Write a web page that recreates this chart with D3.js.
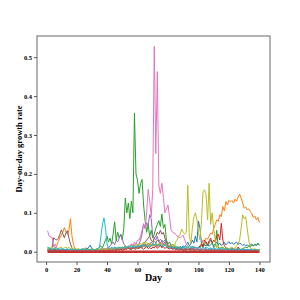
<!DOCTYPE html>
<html><head><meta charset="utf-8">
<script src="https://cdn.jsdelivr.net/npm/d3@7"></script>
<style>
html,body{margin:0;padding:0;background:#fff;}
svg{display:block;}
</style></head>
<body>
<svg id="chart" width="300" height="300"></svg>
<script>
const xTicks = [0,20,40,60,80,100,120,140];
const yTicks = [0.0,0.1,0.2,0.3,0.4,0.5];
const days = d3.range(1,141);

const blue = [
0.010,0.008,0.006,0.005,0.004,0.006,0.005,0.004,0.003,0.004,
0.005,0.004,0.003,0.004,0.003,0.005,0.004,0.003,0.004,0.005,
0.004,0.006,0.005,0.008,0.006,0.010,0.007,0.012,0.017,0.008,
0.006,0.005,0.007,0.006,0.005,0.008,0.006,0.007,0.005,0.006,
0.008,0.006,0.010,0.007,0.012,0.009,0.008,0.011,0.009,0.012,
0.010,0.014,0.011,0.009,0.013,0.010,0.015,0.012,0.010,0.014,
0.012,0.016,0.011,0.014,0.018,0.013,0.015,0.012,0.016,0.020,
0.015,0.018,0.014,0.020,0.016,0.012,0.015,0.018,0.013,0.010,
0.012,0.015,0.010,0.013,0.009,0.012,0.010,0.014,0.011,0.015,
0.012,0.018,0.025,0.015,0.020,0.030,0.022,0.040,0.025,0.079,
0.060,0.020,0.012,0.018,0.015,0.020,0.014,0.018,0.022,0.016,
0.020,0.025,0.018,0.022,0.016,0.020,0.024,0.018,0.022,0.026,
0.020,0.024,0.019,0.022,0.025,0.018,0.022,0.020,0.016,0.019,
0.015,0.018,0.014,0.017,0.020,0.015,0.018,0.016,0.020,0.017];

const orange = [
0.004,0.005,0.006,0.005,0.008,0.010,0.015,0.026,0.035,0.043,
0.050,0.062,0.052,0.045,0.055,0.085,0.040,0.018,0.008,0.006,
0.005,0.004,0.006,0.005,0.004,0.005,0.006,0.004,0.005,0.008,
0.006,0.005,0.004,0.006,0.005,0.004,0.006,0.005,0.007,0.006,
0.005,0.006,0.004,0.005,0.007,0.005,0.006,0.008,0.006,0.005,
0.007,0.006,0.008,0.010,0.007,0.009,0.012,0.008,0.010,0.013,
0.010,0.014,0.012,0.016,0.011,0.018,0.013,0.015,0.020,0.014,
0.018,0.022,0.016,0.020,0.025,0.018,0.022,0.015,0.018,0.012,
0.014,0.010,0.012,0.009,0.011,0.008,0.010,0.007,0.009,0.006,
0.008,0.006,0.007,0.005,0.006,0.008,0.006,0.007,0.008,0.010,
0.010,0.018,0.030,0.028,0.035,0.032,0.040,0.048,0.045,0.060,
0.070,0.082,0.078,0.095,0.090,0.116,0.105,0.129,0.120,0.132,
0.128,0.132,0.125,0.135,0.130,0.140,0.148,0.138,0.125,0.112,
0.115,0.108,0.110,0.104,0.098,0.088,0.092,0.082,0.088,0.075];

const green = [
0.006,0.008,0.005,0.004,0.006,0.005,0.004,0.003,0.004,0.005,
0.004,0.003,0.005,0.004,0.003,0.004,0.003,0.005,0.004,0.003,
0.004,0.003,0.005,0.004,0.006,0.004,0.005,0.003,0.004,0.006,
0.005,0.004,0.006,0.008,0.012,0.015,0.010,0.020,0.030,0.040,
0.025,0.035,0.020,0.045,0.077,0.030,0.050,0.035,0.045,0.030,
0.060,0.138,0.100,0.125,0.085,0.130,0.100,0.356,0.200,0.184,
0.150,0.175,0.186,0.120,0.080,0.050,0.070,0.040,0.055,0.035,
0.045,0.060,0.070,0.080,0.065,0.097,0.060,0.070,0.030,0.020,
0.025,0.015,0.020,0.012,0.015,0.010,0.012,0.008,0.010,0.012,
0.008,0.010,0.012,0.008,0.010,0.015,0.010,0.012,0.008,0.010,
0.012,0.015,0.020,0.018,0.025,0.015,0.022,0.030,0.025,0.010,
0.015,0.055,0.012,0.008,0.010,0.012,0.008,0.010,0.006,0.008,
0.006,0.008,0.005,0.007,0.006,0.008,0.005,0.006,0.008,0.010,
0.012,0.010,0.015,0.012,0.018,0.015,0.020,0.016,0.022,0.018];

const red = [
0.004,0.003,0.005,0.004,0.003,0.004,0.003,0.002,0.003,0.004,
0.003,0.002,0.004,0.003,0.002,0.003,0.004,0.003,0.002,0.003,
0.002,0.003,0.002,0.004,0.003,0.002,0.003,0.002,0.004,0.003,
0.002,0.003,0.004,0.003,0.002,0.003,0.002,0.004,0.003,0.002,
0.003,0.004,0.003,0.005,0.004,0.003,0.005,0.004,0.006,0.004,
0.005,0.008,0.006,0.010,0.007,0.005,0.012,0.008,0.006,0.010,
0.008,0.012,0.009,0.006,0.010,0.014,0.008,0.011,0.007,0.012,
0.010,0.015,0.009,0.012,0.018,0.010,0.014,0.008,0.012,0.009,
0.007,0.010,0.006,0.008,0.005,0.007,0.004,0.006,0.005,0.004,
0.005,0.004,0.006,0.005,0.008,0.010,0.006,0.012,0.008,0.010,
0.015,0.020,0.012,0.030,0.025,0.018,0.028,0.035,0.022,0.030,
0.025,0.040,0.045,0.030,0.073,0.030,0.015,0.010,0.008,0.006,
0.005,0.008,0.006,0.004,0.006,0.012,0.008,0.005,0.004,0.006,
0.004,0.005,0.003,0.006,0.004,0.003,0.005,0.004,0.003,0.004];

const purple = [
0.003,0.004,0.003,0.005,0.004,0.003,0.004,0.005,0.003,0.004,
0.005,0.004,0.003,0.004,0.005,0.003,0.004,0.003,0.005,0.004,
0.003,0.004,0.005,0.003,0.004,0.006,0.004,0.005,0.003,0.004,
0.005,0.004,0.006,0.005,0.004,0.006,0.005,0.008,0.006,0.010,
0.010,0.015,0.020,0.025,0.018,0.030,0.025,0.035,0.045,0.033,
0.020,0.015,0.012,0.010,0.015,0.020,0.015,0.018,0.012,0.015,
0.020,0.030,0.045,0.072,0.060,0.075,0.068,0.095,0.085,0.040,
0.035,0.030,0.040,0.025,0.020,0.030,0.018,0.025,0.015,0.012,
0.010,0.012,0.008,0.010,0.007,0.009,0.006,0.008,0.006,0.007,
0.005,0.007,0.006,0.008,0.005,0.006,0.008,0.005,0.007,0.006,
0.005,0.007,0.006,0.005,0.008,0.006,0.005,0.007,0.006,0.005,
0.004,0.006,0.005,0.004,0.006,0.005,0.004,0.005,0.006,0.004,
0.005,0.004,0.006,0.005,0.004,0.005,0.003,0.004,0.005,0.004,
0.003,0.004,0.005,0.003,0.004,0.003,0.005,0.004,0.003,0.004];

const brown = [
0.003,0.004,0.006,0.012,0.036,0.032,0.030,0.034,0.044,0.056,
0.046,0.036,0.048,0.054,0.035,0.020,0.010,0.005,0.004,0.005,
0.004,0.003,0.005,0.004,0.003,0.004,0.003,0.005,0.004,0.003,
0.004,0.003,0.004,0.005,0.003,0.004,0.005,0.003,0.004,0.005,
0.004,0.006,0.005,0.004,0.006,0.005,0.007,0.005,0.006,0.008,
0.006,0.008,0.007,0.010,0.008,0.006,0.010,0.008,0.012,0.009,
0.010,0.012,0.015,0.020,0.025,0.030,0.035,0.040,0.030,0.025,
0.035,0.040,0.050,0.045,0.055,0.045,0.050,0.035,0.025,0.015,
0.012,0.010,0.008,0.010,0.007,0.006,0.008,0.005,0.006,0.004,
0.005,0.004,0.006,0.005,0.004,0.005,0.003,0.004,0.005,0.004,
0.003,0.004,0.005,0.004,0.003,0.005,0.004,0.003,0.004,0.005,
0.004,0.003,0.005,0.004,0.003,0.004,0.003,0.005,0.004,0.003,
0.004,0.003,0.004,0.005,0.003,0.004,0.003,0.004,0.003,0.004,
0.003,0.004,0.003,0.002,0.003,0.004,0.003,0.002,0.003,0.003];

const pink = [
0.054,0.040,0.038,0.037,0.012,0.020,0.010,0.008,0.006,0.005,
0.004,0.006,0.005,0.004,0.003,0.004,0.003,0.005,0.004,0.003,
0.004,0.003,0.005,0.004,0.003,0.004,0.005,0.003,0.004,0.003,
0.004,0.005,0.003,0.004,0.005,0.004,0.006,0.005,0.004,0.006,
0.005,0.007,0.006,0.008,0.006,0.009,0.007,0.010,0.008,0.009,
0.010,0.012,0.008,0.015,0.010,0.020,0.015,0.025,0.018,0.030,
0.030,0.040,0.055,0.070,0.060,0.100,0.160,0.130,0.090,0.160,
0.528,0.252,0.463,0.171,0.150,0.176,0.140,0.100,0.110,0.120,
0.090,0.056,0.050,0.048,0.045,0.040,0.038,0.036,0.040,0.042,
0.030,0.020,0.015,0.012,0.010,0.012,0.008,0.010,0.007,0.009,
0.006,0.008,0.005,0.007,0.006,0.005,0.007,0.006,0.005,0.004,
0.006,0.005,0.004,0.005,0.006,0.004,0.005,0.003,0.004,0.005,
0.004,0.003,0.005,0.004,0.003,0.004,0.003,0.005,0.004,0.003,
0.004,0.003,0.002,0.003,0.004,0.003,0.002,0.003,0.004,0.003];

const gray = [
0.008,0.006,0.005,0.007,0.006,0.004,0.005,0.006,0.004,0.005,
0.006,0.005,0.004,0.006,0.005,0.007,0.005,0.004,0.006,0.005,
0.004,0.005,0.006,0.004,0.005,0.004,0.006,0.005,0.004,0.005,
0.006,0.004,0.005,0.006,0.004,0.005,0.007,0.005,0.006,0.008,
0.006,0.007,0.009,0.006,0.008,0.010,0.007,0.009,0.011,0.008,
0.010,0.012,0.009,0.011,0.014,0.010,0.012,0.015,0.011,0.013,
0.016,0.012,0.018,0.014,0.020,0.016,0.022,0.018,0.025,0.020,
0.028,0.022,0.030,0.025,0.032,0.028,0.025,0.030,0.022,0.018,
0.015,0.018,0.012,0.014,0.010,0.012,0.009,0.011,0.008,0.010,
0.007,0.009,0.006,0.008,0.007,0.006,0.008,0.005,0.007,0.006,
0.005,0.007,0.006,0.008,0.006,0.005,0.007,0.006,0.005,0.006,
0.004,0.006,0.005,0.007,0.005,0.004,0.006,0.005,0.004,0.005,
0.004,0.005,0.003,0.004,0.005,0.004,0.003,0.005,0.004,0.003,
0.004,0.003,0.005,0.004,0.003,0.004,0.003,0.004,0.003,0.004];

const olive = [
0.006,0.008,0.010,0.012,0.008,0.010,0.006,0.008,0.010,0.012,
0.008,0.010,0.012,0.009,0.011,0.008,0.010,0.007,0.009,0.006,
0.008,0.006,0.007,0.005,0.006,0.008,0.005,0.007,0.006,0.005,
0.006,0.005,0.007,0.006,0.005,0.007,0.006,0.008,0.006,0.007,
0.008,0.006,0.009,0.007,0.010,0.008,0.011,0.009,0.012,0.010,
0.012,0.014,0.011,0.015,0.012,0.016,0.013,0.018,0.014,0.020,
0.016,0.022,0.018,0.025,0.020,0.024,0.018,0.022,0.016,0.020,
0.018,0.015,0.020,0.016,0.022,0.018,0.015,0.020,0.016,0.012,
0.010,0.015,0.020,0.012,0.025,0.030,0.040,0.045,0.058,0.050,
0.045,0.050,0.171,0.040,0.022,0.060,0.090,0.100,0.082,0.050,
0.030,0.080,0.154,0.159,0.146,0.082,0.176,0.070,0.100,0.060,
0.030,0.010,0.015,0.008,0.012,0.010,0.008,0.006,0.010,0.008,
0.010,0.012,0.008,0.010,0.015,0.020,0.030,0.060,0.095,0.085,
0.090,0.060,0.030,0.010,0.008,0.006,0.008,0.005,0.006,0.004];

const cyan = [
0.012,0.010,0.008,0.006,0.008,0.010,0.007,0.009,0.006,0.008,
0.007,0.005,0.006,0.008,0.005,0.007,0.006,0.004,0.006,0.005,
0.004,0.006,0.005,0.007,0.005,0.006,0.004,0.005,0.006,0.004,
0.005,0.006,0.004,0.006,0.010,0.040,0.070,0.087,0.060,0.020,
0.010,0.008,0.012,0.009,0.011,0.008,0.010,0.012,0.009,0.011,
0.010,0.013,0.011,0.014,0.012,0.015,0.013,0.011,0.014,0.012,
0.015,0.013,0.018,0.014,0.016,0.012,0.015,0.018,0.014,0.020,
0.016,0.022,0.018,0.015,0.020,0.016,0.013,0.018,0.014,0.012,
0.010,0.013,0.011,0.009,0.012,0.010,0.008,0.011,0.009,0.012,
0.010,0.014,0.011,0.015,0.012,0.010,0.013,0.011,0.009,0.012,
0.010,0.008,0.011,0.009,0.012,0.010,0.008,0.010,0.007,0.009,
0.008,0.006,0.009,0.007,0.010,0.008,0.006,0.008,0.007,0.005,
0.007,0.006,0.008,0.006,0.005,0.007,0.006,0.005,0.007,0.006,
0.005,0.006,0.004,0.006,0.005,0.004,0.006,0.005,0.004,0.005];

const baseline = [
0,0,0,0,0,0,0,0,0,0, 0,0,0,0,0,0,0,0,0,0,
0,0,0,0,0,0,0,0,0,0, 0,0,0,0,0,0,0,0,0,0,
0,0,0,0,0,0,0,0,0,0, 0,0,0,0,0,0,0,0,0,0,
0,0,0,0,0,0,0,0,0,0, 0,0,0,0,0,0,0,0,0,0,
0,0,0,0,0,0,0,0,0,0, 0,0,0,0,0,0,0,0,0,0,
0,0,0,0,0,0,0,0,0,0, 0,0,0,0,0,0,0,0,0,0,
0,0,0,0,0,0,0,0,0,0, 0,0,0,0,0,0,0,0,0,0];

const seriesList = [
  {values: blue,   color: "#1f77b4", w: 1},
  {values: orange, color: "#ff7f0e", w: 1},
  {values: green,  color: "#2ca02c", w: 1},
  {values: red,    color: "#d62728", w: 1},
  {values: purple, color: "#9467bd", w: 1},
  {values: brown,  color: "#8c564b", w: 1},
  {values: pink,   color: "#e377c2", w: 1},
  {values: gray,   color: "#7f7f7f", w: 1},
  {values: olive,  color: "#bcbd22", w: 1},
  {values: cyan,   color: "#17becf", w: 1},
  {values: baseline, color: "#d62728", w: 2.4},
  {values: baseline, color: "#8c564b", w: 1.2, op: 0.6}
];

const M = {left: 37, right: 270, top: 36, bottom: 262};
const svg = d3.select("#chart");

const allVals = seriesList.flatMap(s => s.values);
const yMax = d3.max(allVals), yMin = d3.min(allVals);
const yPad = (yMax - yMin) * 0.05;
const xPad = (d3.max(days) - d3.min(days)) * 0.05;

const x = d3.scaleLinear().domain([d3.min(days) - xPad, d3.max(days) + xPad]).range([M.left, M.right]);
const y = d3.scaleLinear().domain([yMin - yPad, yMax + yPad]).range([M.bottom, M.top]);

const line = d3.line().x((d, i) => x(days[i])).y(d => y(d));

const g = svg.append("g");
seriesList.forEach(s => {
  g.append("path").datum(s.values)
    .attr("d", line)
    .attr("fill", "none")
    .attr("stroke", s.color)
    .attr("stroke-width", s.w)
    .attr("stroke-opacity", s.op || 1)
    .attr("stroke-linejoin", "round");
});

// frame
svg.append("rect")
  .attr("x", M.left).attr("y", M.top)
  .attr("width", M.right - M.left).attr("height", M.bottom - M.top)
  .attr("fill", "none").attr("stroke", "#808080").attr("stroke-width", 1.2);

const fontFam = "'Liberation Serif','Times New Roman',serif";

const xAxis = svg.append("g").attr("transform", `translate(0,${M.bottom})`)
  .call(d3.axisBottom(x).tickValues(xTicks).tickSize(3).tickPadding(2).tickFormat(d3.format("d")));
const yAxis = svg.append("g").attr("transform", `translate(${M.left},0)`)
  .call(d3.axisLeft(y).tickValues(yTicks).tickSize(3).tickPadding(2).tickFormat(d3.format(".1f")));
[xAxis, yAxis].forEach(a => {
  a.select(".domain").remove();
  a.selectAll(".tick line").attr("stroke", "#555");
  a.selectAll(".tick text").attr("fill", "#000")
    .style("font-family", fontFam).style("font-size", "6.5px").style("font-weight", "bold");
});

svg.append("text")
  .attr("x", (M.left + M.right) / 2).attr("y", 281)
  .attr("text-anchor", "middle")
  .style("font-family", fontFam).style("font-size", "10px").style("font-weight", "bold")
  .text("Day");

svg.append("text")
  .attr("transform", `translate(22,${(M.top + M.bottom) / 2}) rotate(-90)`)
  .attr("text-anchor", "middle")
  .style("font-family", fontFam).style("font-size", "8.5px").style("font-weight", "bold")
  .text("Day-on-day growth rate");
</script>
</body></html>
